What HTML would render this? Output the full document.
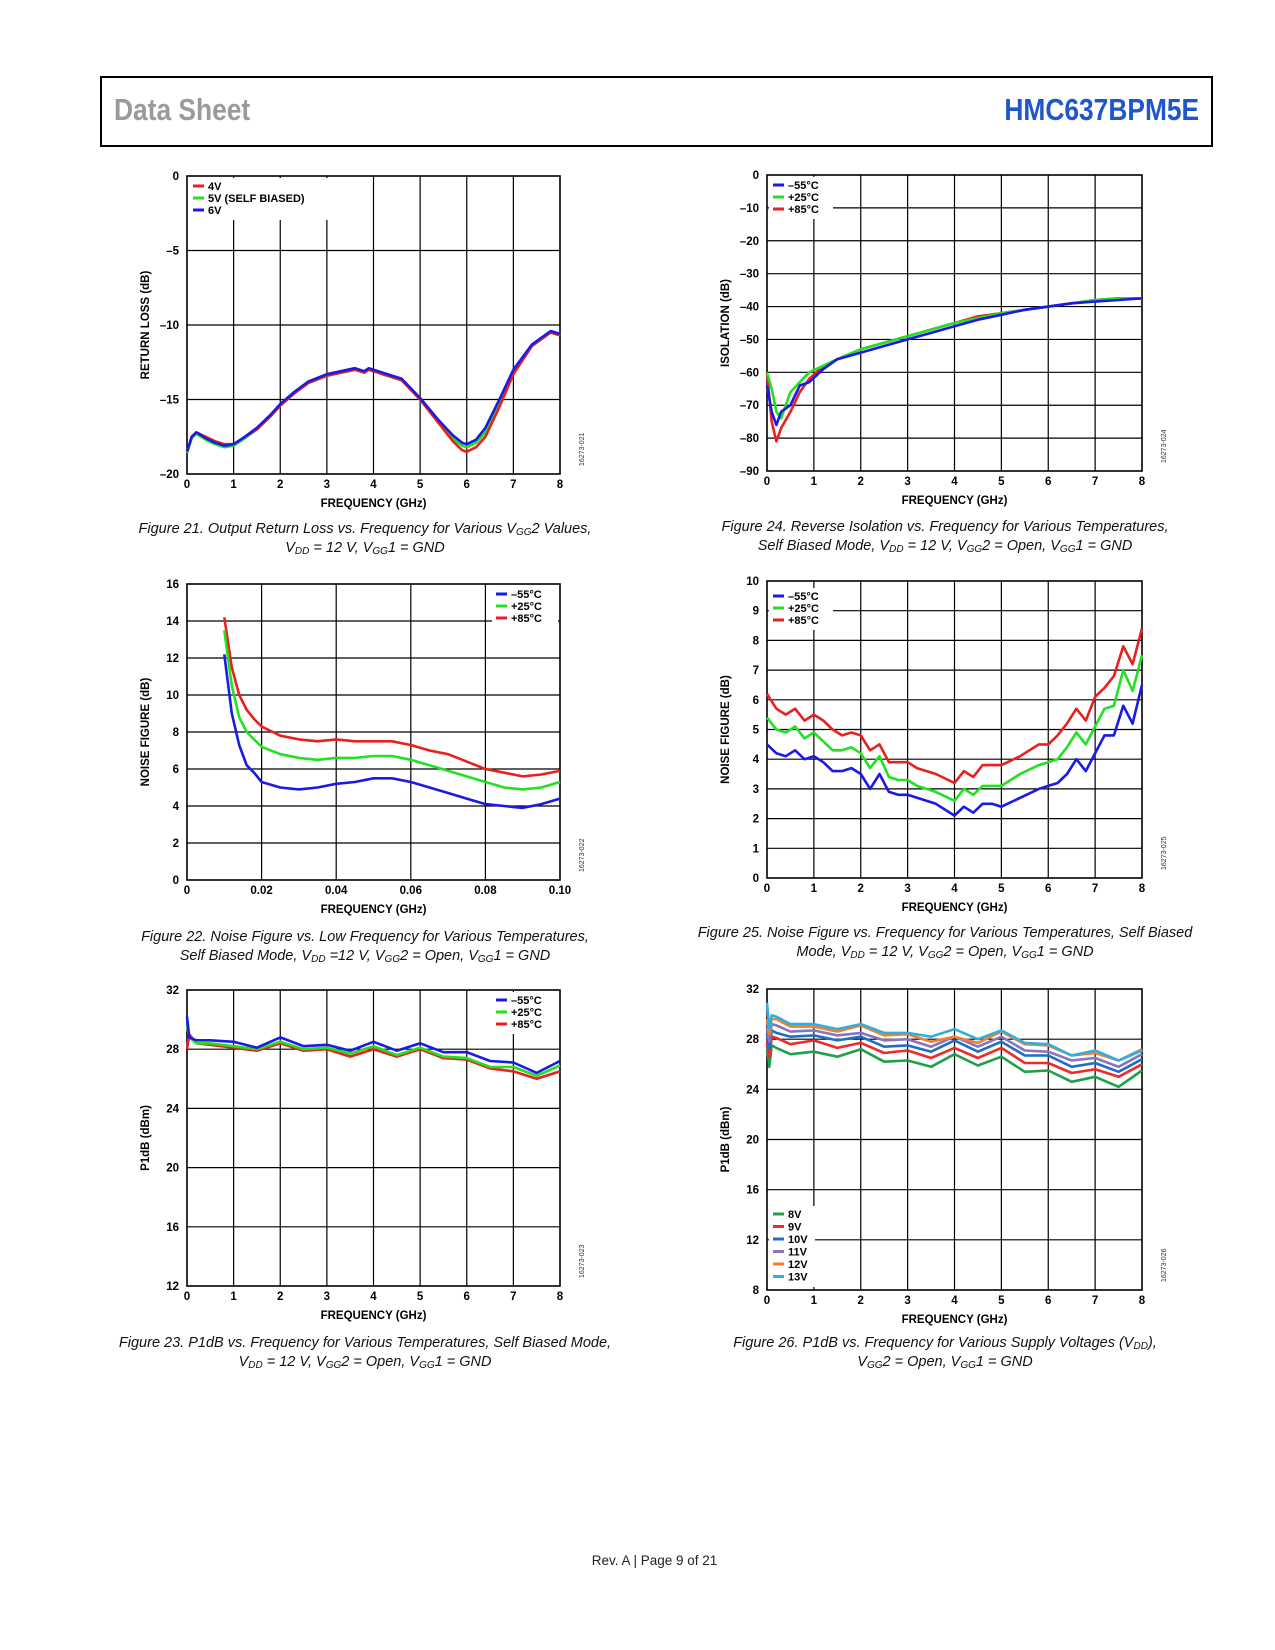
<!DOCTYPE html>
<html><head><meta charset="utf-8"><style>
html,body{margin:0;padding:0;background:#fff}
body{width:1275px;height:1650px;position:relative;overflow:hidden;font-family:"Liberation Sans",sans-serif}
.hdr{position:absolute;left:100px;top:76px;width:1109px;height:67px;border:2px solid #000;border-left:2px solid #000}
.ds{position:absolute;left:12px;top:14px;font-size:31px;color:#9a9a9a;font-family:"Liberation Sans Narrow","Liberation Sans",sans-serif;font-weight:bold;transform:scaleX(.85);transform-origin:left}
.pn{position:absolute;right:12px;top:14px;font-size:31px;color:#1f56c8;font-weight:bold;transform:scaleX(.85);transform-origin:right}
.cap{position:absolute;width:560px;text-align:center;font-style:italic;font-size:14.5px;line-height:19px;color:#111}
.cap sub{font-size:10px;vertical-align:-2px;line-height:0}
.foot{position:absolute;top:1553px;left:0;width:1309px;text-align:center;font-size:13.5px;color:#222}
svg{position:absolute;left:0;top:0}
</style></head><body>
<div class="hdr"><div class="ds">Data Sheet</div><div class="pn">HMC637BPM5E</div></div>
<div class="cap" style="left:85px;top:520px">Figure 21. Output Return Loss vs. Frequency for Various V<sub>GG</sub>2 Values,<br>V<sub>DD</sub> = 12 V, V<sub>GG</sub>1 = GND</div>
<div class="cap" style="left:85px;top:928px">Figure 22. Noise Figure vs. Low Frequency for Various Temperatures,<br>Self Biased Mode, V<sub>DD</sub> =12 V, V<sub>GG</sub>2 = Open, V<sub>GG</sub>1 = GND</div>
<div class="cap" style="left:85px;top:1334px">Figure 23. P1dB vs. Frequency for Various Temperatures, Self Biased Mode,<br>V<sub>DD</sub> = 12 V, V<sub>GG</sub>2 = Open, V<sub>GG</sub>1 = GND</div>
<div class="cap" style="left:665px;top:518px;width:560px">Figure 24. Reverse Isolation vs. Frequency for Various Temperatures,<br>Self Biased Mode, V<sub>DD</sub> = 12 V, V<sub>GG</sub>2 = Open, V<sub>GG</sub>1 = GND</div>
<div class="cap" style="left:665px;top:924px;width:560px">Figure 25. Noise Figure vs. Frequency for Various Temperatures, Self Biased<br>Mode, V<sub>DD</sub> = 12 V, V<sub>GG</sub>2 = Open, V<sub>GG</sub>1 = GND</div>
<div class="cap" style="left:665px;top:1334px;width:560px">Figure 26. P1dB vs. Frequency for Various Supply Voltages (V<sub>DD</sub>),<br>V<sub>GG</sub>2 = Open, V<sub>GG</sub>1 = GND</div>
<div class="foot">Rev. A | Page 9 of 21</div>
<svg id="s" width="1275" height="1650"></svg>
<script>
// Figure 21 data
const c1x=[0,0.1,0.2,0.4,0.6,0.8,1.0,1.2,1.5,1.8,2.0,2.3,2.6,3.0,3.3,3.6,3.8,3.9,4.2,4.6,5.0,5.4,5.7,5.9,6.0,6.2,6.4,6.7,7.0,7.4,7.8,8.0];
const c1v6=[-18.5,-17.5,-17.2,-17.6,-17.9,-18.1,-18.0,-17.6,-16.9,-16.0,-15.3,-14.5,-13.8,-13.3,-13.1,-12.9,-13.1,-12.9,-13.2,-13.6,-14.9,-16.4,-17.4,-17.9,-18.0,-17.7,-16.9,-15.0,-13.0,-11.3,-10.4,-10.6];
const c1v5=[-18.6,-17.6,-17.3,-17.7,-18.0,-18.2,-18.1,-17.7,-17.0,-16.1,-15.4,-14.6,-13.9,-13.4,-13.2,-13.0,-13.2,-13.0,-13.3,-13.7,-15.0,-16.5,-17.6,-18.1,-18.2,-17.9,-17.2,-15.3,-13.2,-11.4,-10.5,-10.7];
const c1v4=[-18.5,-17.5,-17.2,-17.5,-17.8,-18.0,-18.0,-17.6,-17.0,-16.1,-15.4,-14.6,-13.9,-13.4,-13.2,-13.0,-13.2,-13.0,-13.3,-13.7,-15.0,-16.6,-17.8,-18.4,-18.5,-18.2,-17.5,-15.5,-13.3,-11.4,-10.5,-10.7];
// Figure 22 data
const c2x=[0.010,0.012,0.014,0.016,0.018,0.020,0.025,0.030,0.035,0.040,0.045,0.050,0.055,0.060,0.065,0.070,0.075,0.080,0.085,0.090,0.095,0.100];
const c2red=[14.2,11.5,10.0,9.2,8.7,8.3,7.8,7.6,7.5,7.6,7.5,7.5,7.5,7.3,7.0,6.8,6.4,6.0,5.8,5.6,5.7,5.9];
const c2green=[13.5,10.5,8.8,8.0,7.6,7.2,6.8,6.6,6.5,6.6,6.6,6.7,6.7,6.5,6.2,5.9,5.6,5.3,5.0,4.9,5.0,5.3];
const c2blue=[12.2,9.0,7.3,6.2,5.8,5.3,5.0,4.9,5.0,5.2,5.3,5.5,5.5,5.3,5.0,4.7,4.4,4.1,4.0,3.9,4.1,4.4];
// Figure 23 data
const c3x=[0,0.05,0.2,0.5,1,1.5,2,2.5,3,3.5,4,4.5,5,5.5,6,6.5,7,7.5,8];
const c3blue=[30.2,28.8,28.6,28.6,28.5,28.1,28.8,28.2,28.3,27.9,28.5,27.9,28.4,27.8,27.8,27.2,27.1,26.4,27.2];
const c3green=[29.6,28.8,28.4,28.4,28.2,28.0,28.5,28.0,28.1,27.7,28.2,27.6,28.1,27.5,27.4,26.8,26.8,26.2,26.9];
const c3red=[28.0,29.0,28.4,28.3,28.1,27.9,28.4,27.9,28.0,27.5,28.0,27.5,28.0,27.4,27.3,26.7,26.5,26.0,26.5];
// Figure 24 data
const c4x=[0,0.1,0.2,0.3,0.5,0.7,0.9,1.2,1.5,2.0,2.5,3.0,3.5,4.0,4.5,5.0,5.5,6.0,6.5,7.0,7.5,8.0];
const c4red=[-60,-75,-81,-77,-72,-66,-62,-58,-56,-53,-51,-49,-47,-45,-43,-42,-41,-40,-39,-38,-37.5,-37.5];
const c4green=[-60,-65,-72,-74,-66,-63,-60,-58,-56,-53,-51,-49,-47,-45,-43.5,-42,-41,-40,-39,-38,-37.5,-37.5];
const c4blue=[-64,-72,-76,-72,-70,-64,-63,-59,-56,-54,-52,-50,-48,-46,-44,-42.5,-41,-40,-39,-38.5,-38,-37.5];
// Figure 25 data
const c5x=[0,0.2,0.4,0.6,0.8,1.0,1.2,1.4,1.6,1.8,2.0,2.2,2.4,2.6,2.8,3.0,3.2,3.6,4.0,4.2,4.4,4.6,4.8,5.0,5.4,5.8,6.0,6.2,6.4,6.6,6.8,7.0,7.2,7.4,7.6,7.8,8.0];
const c5blue=[4.5,4.2,4.1,4.3,4.0,4.1,3.9,3.6,3.6,3.7,3.5,3.0,3.5,2.9,2.8,2.8,2.7,2.5,2.1,2.4,2.2,2.5,2.5,2.4,2.7,3.0,3.1,3.2,3.5,4.0,3.6,4.2,4.8,4.8,5.8,5.2,6.5];
const c5green=[5.4,5.0,4.9,5.1,4.7,4.9,4.6,4.3,4.3,4.4,4.2,3.7,4.1,3.4,3.3,3.3,3.1,2.9,2.6,3.0,2.8,3.1,3.1,3.1,3.5,3.8,3.9,4.0,4.4,4.9,4.5,5.1,5.7,5.8,7.0,6.3,7.5];
const c5red=[6.2,5.7,5.5,5.7,5.3,5.5,5.3,5.0,4.8,4.9,4.8,4.3,4.5,3.9,3.9,3.9,3.7,3.5,3.2,3.6,3.4,3.8,3.8,3.8,4.1,4.5,4.5,4.8,5.2,5.7,5.3,6.1,6.4,6.8,7.8,7.2,8.4];
// Figure 26 data
const c6x=[0,0.05,0.1,0.2,0.5,1,1.5,2,2.5,3,3.5,4,4.5,5,5.5,6,6.5,7,7.5,8];
const c6v8=[27.4,25.8,27.5,27.3,26.8,27.0,26.6,27.2,26.2,26.3,25.8,26.8,25.9,26.6,25.4,25.5,24.6,25.0,24.2,25.5];
const c6v9=[27.8,26.6,28.2,28.1,27.6,27.9,27.3,27.7,26.9,27.1,26.5,27.3,26.5,27.3,26.1,26.1,25.3,25.6,25.0,26.0];
const c6v10=[28.4,27.2,28.7,28.5,28.2,28.3,27.9,28.2,27.4,27.5,27.0,27.9,27.0,27.8,26.7,26.7,25.8,26.1,25.4,26.4];
const c6v11=[28.9,27.8,29.2,29.1,28.6,28.7,28.3,28.5,27.9,28.0,27.4,28.2,27.4,28.2,27.1,27.0,26.3,26.5,25.8,26.8];
const c6v12=[29.6,28.4,29.6,29.6,29.0,29.0,28.6,29.1,28.3,28.4,27.8,28.2,27.7,28.6,27.6,27.5,26.7,26.9,26.3,27.2];
const c6v13=[30.9,28.8,29.9,29.8,29.2,29.2,28.8,29.2,28.5,28.5,28.2,28.8,28.0,28.7,27.7,27.6,26.7,27.1,26.3,27.1];
const c1yt=['0','\u20135','\u201310','\u201315','\u201320'];
const c2xt=['0','0.02','0.04','0.06','0.08','0.10'];
const c4yt=['0','\u201310','\u201320','\u201330','\u201340','\u201350','\u201360','\u201370','\u201380','\u201390'];

const R='#e8201f',G='#22e022',B='#1a1ae6';
const S=document.getElementById('s');const NS='http://www.w3.org/2000/svg';
function mk(t,a,p){const e=document.createElementNS(NS,t);for(const k in a)e.setAttribute(k,a[k]);(p||S).appendChild(e);return e;}
function num(v){return v<0?'\u2013'+(-v):String(v);}
function chart(o){
  const g=mk('g',{});
  
  
  const L=o.L,T=o.T,W=o.W,H=o.H;
  const sx=v=>L+(v-o.x0)/(o.x1-o.x0)*W, sy=v=>T+(o.y1-v)/(o.y1-o.y0)*H;
  for(let v=o.x0+o.xs;v<o.x1-1e-9;v+=o.xs){const l=mk('line',{x1:sx(v),x2:sx(v),y1:T,y2:T+H,stroke:'#000','stroke-width':1.2},g);}
  for(let v=o.y0+o.ys;v<o.y1-1e-9;v+=o.ys){const l=mk('line',{x1:L,x2:L+W,y1:sy(v),y2:sy(v),stroke:'#000','stroke-width':1.2},g);}
  mk('rect',{x:L,y:T,width:W,height:H,fill:'none',stroke:'#000','stroke-width':1.6},g);
  let i=0;
  for(let v=o.x0;v<=o.x1+1e-9;v+=o.xs,i++){const t=mk('text',{x:sx(v),y:T+H+14,'text-anchor':'middle','font-size':11.5,'font-weight':'bold'},g);t.textContent=o.xt?o.xt[i]:String(Math.round(v));}
  i=0;
  for(let v=o.y1;v>=o.y0-1e-9;v-=o.ys,i++){const t=mk('text',{x:L-8,y:sy(v)+4,'text-anchor':'end','font-size':11.5,'font-weight':'bold'},g);t.textContent=o.yt?o.yt[i]:num(Math.round(v));}
  const xt=mk('text',{x:L+W/2,y:T+H+33,'text-anchor':'middle','font-size':11.5,'font-weight':'bold'},g);xt.textContent='FREQUENCY (GHz)';
  
  const yx=L-38,yy=T+H/2;
  const yt=mk('text',{x:yx,y:yy,'text-anchor':'middle','font-size':11.5,'font-weight':'bold',transform:`rotate(-90 ${yx} ${yy})`},g);yt.textContent=o.ytitle;
  
  const cx=L+W+24,cy=T+H-8;
  const ct=mk('text',{x:cx,y:cy,'text-anchor':'start','font-size':7,fill:'#333',transform:`rotate(-90 ${cx} ${cy})`},g);ct.textContent=o.code;
  
  o.series.forEach(s=>{const p=mk('path',{d:s.y.map((v,k)=>(k?'L':'M')+sx(o.x[k]).toFixed(1)+','+sy(v).toFixed(1)).join(''),fill:'none',stroke:s.c,'stroke-width':2.6,'stroke-linejoin':'round'},g);});
  const lg=mk('g',{},g);
  const lo=o.leg;
  mk('rect',{x:lo.x,y:lo.y,width:lo.w,height:o.series.length*lo.dy+6,fill:'#fff'},lg);
  (lo.order||o.series).forEach((s,k)=>{const yy2=lo.y+8+k*lo.dy;mk('line',{x1:lo.x+4,x2:lo.x+15,y1:yy2,y2:yy2,stroke:s.c,'stroke-width':3},lg);const t=mk('text',{x:lo.x+19,y:yy2+4,'font-size':11,'font-weight':'bold'},lg);t.textContent=s.n;});
}
const c1s=[{n:'5V (SELF BIASED)',c:G,y:c1v5},{n:'4V',c:R,y:c1v4},{n:'6V',c:B,y:c1v6}];
chart({name:'chart-fig21',L:187,T:176,W:373,H:298,x0:0,x1:8,xs:1,y0:-20,y1:0,ys:5,yt:c1yt,ytitle:'RETURN LOSS (dB)',code:'16273-021',x:c1x,series:c1s,
  leg:{x:189,y:178,w:140,dy:12,order:[c1s[1],c1s[0],c1s[2]]}});
const c2s=[{n:'+85\u00b0C',c:R,y:c2red},{n:'+25\u00b0C',c:G,y:c2green},{n:'\u201355\u00b0C',c:B,y:c2blue}];
chart({name:'chart-fig22',L:187,T:584,W:373,H:296,x0:0,x1:0.10,xs:0.02,y0:0,y1:16,ys:2,xt:c2xt,ytitle:'NOISE FIGURE (dB)',code:'16273-022',x:c2x,series:c2s,
  leg:{x:492,y:586,w:66,dy:12,order:[c2s[2],c2s[1],c2s[0]]}});
const c3s=[{n:'+85\u00b0C',c:R,y:c3red},{n:'+25\u00b0C',c:G,y:c3green},{n:'\u201355\u00b0C',c:B,y:c3blue}];
chart({name:'chart-fig23',L:187,T:990,W:373,H:296,x0:0,x1:8,xs:1,y0:12,y1:32,ys:4,ytitle:'P1dB (dBm)',code:'16273-023',x:c3x,series:c3s,
  leg:{x:492,y:992,w:66,dy:12,order:[c3s[2],c3s[1],c3s[0]]}});
const c4s=[{n:'+85\u00b0C',c:R,y:c4red},{n:'+25\u00b0C',c:G,y:c4green},{n:'\u201355\u00b0C',c:B,y:c4blue}];
chart({name:'chart-fig24',L:767,T:175,W:375,H:296,x0:0,x1:8,xs:1,y0:-90,y1:0,ys:10,yt:c4yt,ytitle:'ISOLATION (dB)',code:'16273-024',x:c4x,series:c4s,
  leg:{x:769,y:177,w:64,dy:12,order:[c4s[2],c4s[1],c4s[0]]}});
const c5s=[{n:'+85\u00b0C',c:R,y:c5red},{n:'+25\u00b0C',c:G,y:c5green},{n:'\u201355\u00b0C',c:B,y:c5blue}];
chart({name:'chart-fig25',L:767,T:581,W:375,H:297,x0:0,x1:8,xs:1,y0:0,y1:10,ys:1,ytitle:'NOISE FIGURE (dB)',code:'16273-025',x:c5x,series:c5s,
  leg:{x:769,y:588,w:64,dy:12,order:[c5s[2],c5s[1],c5s[0]]}});
const c6s=[{n:'8V',c:'#1fa04a',y:c6v8},{n:'9V',c:'#ee2a2a',y:c6v9},{n:'10V',c:'#1e6fc0',y:c6v10},{n:'11V',c:'#8a74c0',y:c6v11},{n:'12V',c:'#f08030',y:c6v12},{n:'13V',c:'#30aee0',y:c6v13}];
chart({name:'chart-fig26',L:767,T:989,W:375,H:301,x0:0,x1:8,xs:1,y0:8,y1:32,ys:4,ytitle:'P1dB (dBm)',code:'16273-026',x:c6x,series:c6s,
  leg:{x:769,y:1206,w:46,dy:12.5}});
</script>
</body></html>
